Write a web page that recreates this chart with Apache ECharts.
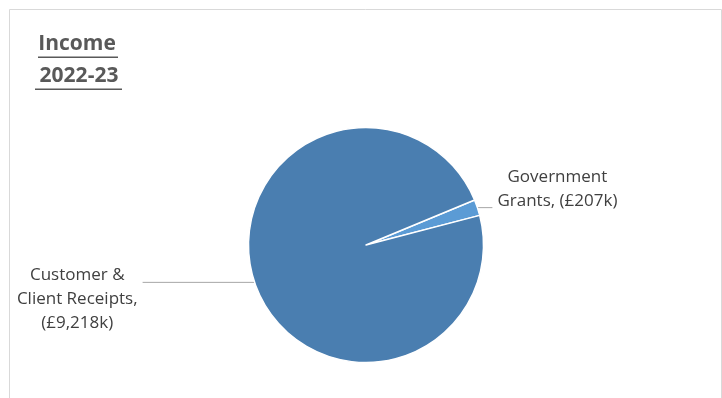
<!DOCTYPE html>
<html>
<head>
<meta charset="utf-8">
<script src="https://cdn.jsdelivr.net/npm/echarts@6/dist/echarts.min.js"></script>
<style>
html,body{margin:0;padding:0;background:#fff;}
#chart{width:722px;height:398px;}
</style>
</head>
<body>
<div id="chart"></div>
<script>
// Data
var titleLines = ['Income', '2022-23'];
var categories = ['Government\nGrants', 'Customer &\nClient Receipts'];
var values = [207, 9218];
var valueLabels = ['(£207k)', '(£9,218k)'];

var FONT = '"Open Sans"';
var chart = echarts.init(document.getElementById('chart'), null, {renderer: 'canvas'});

function centered(lines) {
  return lines.map(function (l) { return '{c|' + l + '}'; }).join('\n');
}

var option = {
  backgroundColor: '#ffffff',
  animation: false,
  graphic: [
    {
      type: 'rect', silent: true,
      shape: {x: 9.5, y: 9.5, width: 712, height: 420},
      style: {fill: 'none', stroke: '#d9d9d9', lineWidth: 1}
    },
    {type: 'text', silent: true, x: 77, y: 44,
      style: {text: titleLines[0], font: 'bold 21px ' + FONT, fill: '#595959', align: 'center', verticalAlign: 'middle'}},
    {type: 'rect', silent: true, shape: {x: 38, y: 56.5, width: 80, height: 1.6}, style: {fill: '#595959'}},
    {type: 'text', silent: true, x: 79, y: 76,
      style: {text: titleLines[1], font: 'bold 21px ' + FONT, fill: '#595959', align: 'center', verticalAlign: 'middle'}},
    {type: 'rect', silent: true, shape: {x: 35, y: 88.5, width: 87, height: 1.6}, style: {fill: '#595959'}}
  ],
  series: [{
    type: 'pie',
    center: [366, 245],
    radius: 117.5,
    startAngle: 22.5,
    clockwise: true,
    avoidLabelOverlap: false,
    itemStyle: {borderColor: '#ffffff', borderWidth: 1.5},
    label: {
      show: true,
      position: 'outside',
      color: '#404040',
      fontFamily: FONT,
      fontSize: 17,
      lineHeight: 24,
      formatter: function (p) {
        var idx = p.dataIndex;
        if (idx === 0) {
          return centered(['Government', 'Grants, ' + valueLabels[0]]);
        }
        return centered(['Customer &', 'Client Receipts,', valueLabels[1]]);
      },
      rich: {c: {align: 'center', fontFamily: FONT, fontSize: 17, lineHeight: 24, color: '#404040'}}
    },
    labelLine: {
      show: true, length: 0, length2: 15, smooth: false,
      lineStyle: {color: '#a6a6a6', width: 1}
    },
    data: [
      {name: categories[0], value: values[0], itemStyle: {color: '#5b9bd5'},
        label: {padding: [0, 0, 36, 0]}, labelLine: {length2: 15}},
      {name: categories[1], value: values[1], itemStyle: {color: '#4a7eb0'},
        label: {padding: [33, 0, 0, 0]}, labelLine: {length2: 112}}
    ]
  }]
};
chart.setOption(option);
</script>
</body>
</html>
